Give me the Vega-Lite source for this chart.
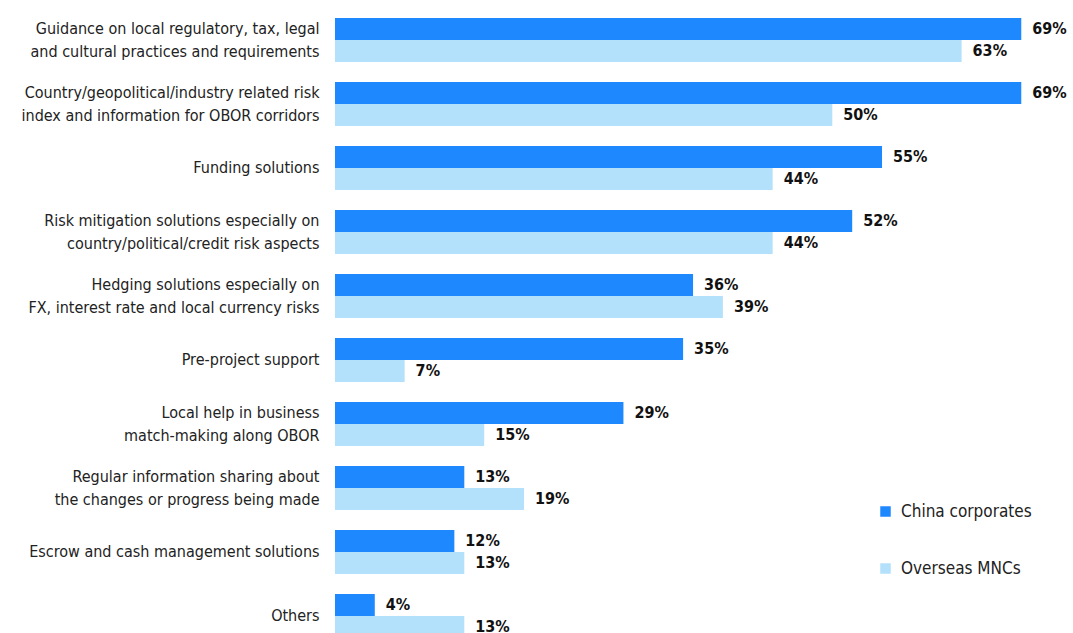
{
  "$schema": "https://vega.github.io/schema/vega-lite/v6.json",
  "autosize": "none",
  "width": 738,
  "height": 640,
  "padding": {"left": 335, "top": 8, "right": 0, "bottom": 0},
  "background": "white",
  "config": {
    "view": {"stroke": null},
    "font": "DejaVu Sans Condensed, Liberation Sans, sans-serif",
    "text": {"font": "DejaVu Sans Condensed, Liberation Sans, sans-serif"}
  },
  "data": {
    "values": [
      {"item": "Guidance on local regulatory, tax, legal|and cultural practices and requirements", "series": "China corporates", "value": 0.69},
      {"item": "Guidance on local regulatory, tax, legal|and cultural practices and requirements", "series": "Overseas MNCs", "value": 0.63},
      {"item": "Country/geopolitical/industry related risk|index and information for OBOR corridors", "series": "China corporates", "value": 0.69},
      {"item": "Country/geopolitical/industry related risk|index and information for OBOR corridors", "series": "Overseas MNCs", "value": 0.50},
      {"item": "Funding solutions", "series": "China corporates", "value": 0.55},
      {"item": "Funding solutions", "series": "Overseas MNCs", "value": 0.44},
      {"item": "Risk mitigation solutions especially on|country/political/credit risk aspects", "series": "China corporates", "value": 0.52},
      {"item": "Risk mitigation solutions especially on|country/political/credit risk aspects", "series": "Overseas MNCs", "value": 0.44},
      {"item": "Hedging solutions especially on|FX, interest rate and local currency risks", "series": "China corporates", "value": 0.36},
      {"item": "Hedging solutions especially on|FX, interest rate and local currency risks", "series": "Overseas MNCs", "value": 0.39},
      {"item": "Pre-project support", "series": "China corporates", "value": 0.35},
      {"item": "Pre-project support", "series": "Overseas MNCs", "value": 0.07},
      {"item": "Local help in business|match-making along OBOR", "series": "China corporates", "value": 0.29},
      {"item": "Local help in business|match-making along OBOR", "series": "Overseas MNCs", "value": 0.15},
      {"item": "Regular information sharing about|the changes or progress being made", "series": "China corporates", "value": 0.13},
      {"item": "Regular information sharing about|the changes or progress being made", "series": "Overseas MNCs", "value": 0.19},
      {"item": "Escrow and cash management solutions", "series": "China corporates", "value": 0.12},
      {"item": "Escrow and cash management solutions", "series": "Overseas MNCs", "value": 0.13},
      {"item": "Others", "series": "China corporates", "value": 0.04},
      {"item": "Others", "series": "Overseas MNCs", "value": 0.13}
    ]
  },
  "encoding": {
    "y": {
      "field": "item", "type": "nominal", "sort": null,
      "scale": {"paddingInner": 0.31, "paddingOuter": 0.155},
      "axis": {
        "title": null, "domain": false, "ticks": false, "labelPadding": 16,
        "labelExpr": "split(datum.label, '|')",
        "labelOffset": {"condition": {"test": "indexof(datum.value, '|') >= 0", "value": -11.5}, "value": 0},
        "labelFontSize": 16, "labelLineHeight": 23, "labelColor": "#222222",
        "labelLimit": 400
      }
    },
    "yOffset": {"field": "series", "type": "nominal", "sort": ["China corporates", "Overseas MNCs"]},
    "x": {
      "field": "value", "type": "quantitative",
      "scale": {"domain": [0, 0.742], "nice": false, "zero": true},
      "axis": null
    }
  },
  "layer": [
    {
      "mark": {"type": "bar"},
      "encoding": {
        "color": {
          "field": "series", "type": "nominal",
          "scale": {"domain": ["China corporates", "Overseas MNCs"], "range": ["#1e88ff", "#b3e0fa"]},
          "legend": {
            "title": null, "orient": "none", "legendX": 542, "legendY": 495,
            "symbolType": "square", "symbolSize": 110, "symbolStrokeWidth": 0,
            "labelFontSize": 17, "labelColor": "#222222",
            "labelOffset": 7, "rowPadding": 39
          }
        }
      }
    },
    {
      "mark": {"type": "text", "align": "left", "baseline": "middle", "dx": 11, "fontSize": 16, "fontWeight": "bold", "color": "#111111"},
      "encoding": {
        "text": {"field": "value", "type": "quantitative", "format": ".0%"}
      }
    }
  ]
}
